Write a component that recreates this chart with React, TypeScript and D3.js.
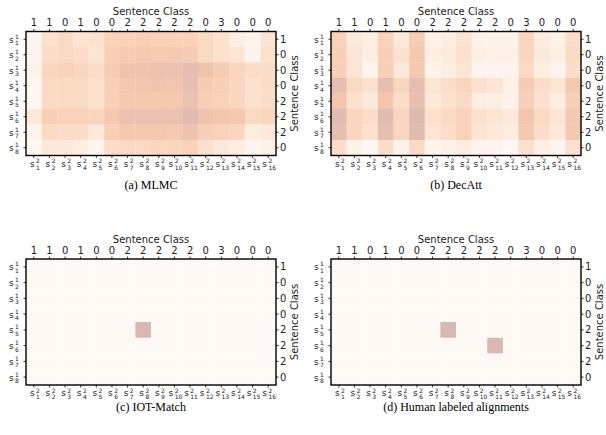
import React from "react";
import * as d3 from "d3";

const colClasses = ["1", "1", "0", "1", "0", "0", "2", "2", "2", "2", "2", "0", "3", "0", "0", "0"];
const rowClasses = ["1", "0", "0", "0", "2", "2", "2", "0"];

const mlmc: number[][] = [
  [0.05, 0.3, 0.4, 0.25, 0.3, 0.5, 0.5, 0.55, 0.5, 0.5, 0.5, 0.4, 0.3, 0.12, 0.06, 0.25],
  [0.05, 0.35, 0.4, 0.35, 0.25, 0.55, 0.6, 0.62, 0.6, 0.62, 0.6, 0.4, 0.3, 0.25, 0.05, 0.3],
  [0.08, 0.45, 0.5, 0.45, 0.35, 0.6, 0.72, 0.75, 0.8, 0.8, 0.88, 0.75, 0.6, 0.45, 0.35, 0.35],
  [0.03, 0.4, 0.4, 0.4, 0.3, 0.55, 0.65, 0.7, 0.72, 0.7, 0.85, 0.6, 0.55, 0.45, 0.3, 0.35],
  [0.03, 0.4, 0.4, 0.4, 0.3, 0.55, 0.65, 0.65, 0.65, 0.65, 0.8, 0.55, 0.5, 0.45, 0.3, 0.35],
  [0.2, 0.55, 0.5, 0.5, 0.45, 0.65, 0.8, 0.8, 0.8, 0.8, 0.9, 0.75, 0.7, 0.65, 0.4, 0.45],
  [0.05, 0.4, 0.35, 0.35, 0.2, 0.55, 0.65, 0.65, 0.65, 0.62, 0.78, 0.55, 0.5, 0.45, 0.15, 0.2],
  [0.03, 0.2, 0.2, 0.15, 0.05, 0.35, 0.4, 0.4, 0.45, 0.45, 0.5, 0.3, 0.2, 0.15, 0.05, 0.1],
];

const decatt: number[][] = [
  [0.5, 0.2, 0.12, 0.5, 0.2, 0.6, 0.1, 0.15, 0.25, 0.1, 0.08, 0.08, 0.45, 0.18, 0.1, 0.35],
  [0.55, 0.25, 0.15, 0.55, 0.3, 0.65, 0.12, 0.18, 0.3, 0.12, 0.1, 0.1, 0.45, 0.2, 0.12, 0.4],
  [0.55, 0.25, 0.05, 0.55, 0.2, 0.65, 0.08, 0.15, 0.25, 0.05, 0.05, 0.06, 0.4, 0.15, 0.05, 0.35],
  [0.85, 0.4, 0.3, 0.85, 0.45, 0.85, 0.25, 0.35, 0.45, 0.3, 0.25, 0.1, 0.6, 0.35, 0.25, 0.65],
  [0.7, 0.3, 0.2, 0.7, 0.35, 0.85, 0.2, 0.3, 0.4, 0.15, 0.12, 0.1, 0.55, 0.3, 0.15, 0.55],
  [0.9, 0.45, 0.35, 0.9, 0.45, 0.95, 0.3, 0.4, 0.5, 0.3, 0.25, 0.2, 0.7, 0.4, 0.25, 0.65],
  [0.85, 0.45, 0.3, 0.85, 0.45, 0.92, 0.25, 0.35, 0.5, 0.25, 0.2, 0.15, 0.65, 0.35, 0.2, 0.65],
  [0.35, 0.08, 0.03, 0.35, 0.08, 0.4, 0.05, 0.08, 0.15, 0.05, 0.05, 0.03, 0.3, 0.12, 0.05, 0.3],
];

// sparse alignments: [row, col] (0-based)
const iotCells: [number, number][] = [[4, 7]];
const humanCells: [number, number][] = [[4, 7], [5, 10]];

const rowLabels = d3.range(1, 9).map((i) => String(i));
const colLabels = d3.range(1, 17).map((j) => String(j));

function sparse(cells: [number, number][]): number[][] {
  const m = rowLabels.map(() => colLabels.map(() => 0));
  cells.forEach(([r, c]) => (m[r][c] = 1));
  return m;
}

const color = d3
  .scaleLinear<string>()
  .domain([0, 0.25, 0.5, 0.7, 0.85, 1])
  .range(["#fff9f5", "#fde5d3", "#fad2ba", "#f3c5ad", "#e7bfb1", "#d6bab0"])
  .clamp(true);

const SANS = "DejaVu Sans, sans-serif";

type PanelProps = { x0: number; x1: number; y0: number; y1: number; data: number[][]; caption: string; capY: number };

function Panel({ x0, x1, y0, y1, data, caption, capY }: PanelProps) {
  const x = d3.scaleBand<string>().domain(colLabels).range([x0, x1]);
  const y = d3.scaleBand<string>().domain(rowLabels).range([y0, y1]);
  const bw = x.bandwidth();
  const bh = y.bandwidth();
  const cx = (l: string) => (x(l) as number) + bw / 2;
  const cy = (l: string) => (y(l) as number) + bh / 2;
  return (
    <g>
      {data.map((row, r) =>
        row.map((v, c) => (
          <rect
            key={`${r}-${c}`}
            x={x(colLabels[c])}
            y={y(rowLabels[r])}
            width={bw + 0.3}
            height={bh + 0.3}
            fill={color(v)}
          />
        ))
      )}
      <rect x={x0} y={y0} width={x1 - x0} height={y1 - y0} fill="none" stroke="#000" strokeWidth={1.4} />
      {colLabels.map((l, i) => (
        <g key={"t" + l}>
          <line x1={cx(l)} x2={cx(l)} y1={y0} y2={y0 - 2.5} stroke="#000" strokeWidth={0.8} />
          <text x={cx(l)} y={y0 - 9} textAnchor="middle" dominantBaseline="central" fontSize={10} fontFamily={SANS} fill="#222">
            {colClasses[i]}
          </text>
          <line x1={cx(l)} x2={cx(l)} y1={y1} y2={y1 + 2.5} stroke="#000" strokeWidth={0.8} />
          <text x={cx(l) - (l.length > 1 ? 3.5 : 1.5)} y={y1 + 11} textAnchor="middle" fontSize={9} fontFamily={SANS} fill="#222">
            s
          </text>
          <text x={cx(l) + 2.2} y={y1 + 7.5} textAnchor="start" fontSize={6} fontFamily={SANS} fill="#222" dx={l.length > 1 ? -2 : 0}>
            2
          </text>
          <text x={cx(l) + 2.2} y={y1 + 14} textAnchor="start" fontSize={6} fontFamily={SANS} fill="#222" dx={l.length > 1 ? -2 : 0}>
            {l}
          </text>
        </g>
      ))}
      <text x={(x0 + x1) / 2} y={y0 - 20} textAnchor="middle" dominantBaseline="central" fontSize={10} fontFamily={SANS} fill="#222">
        Sentence Class
      </text>
      {rowLabels.map((l, i) => (
        <g key={"r" + l}>
          <line x1={x0} x2={x0 - 2.5} y1={cy(l)} y2={cy(l)} stroke="#000" strokeWidth={0.8} />
          <text x={x0 - 17} y={cy(l) + 3.5} fontSize={9} fontFamily={SANS} fill="#222">
            s
          </text>
          <text x={x0 - 11} y={cy(l) - 0.5} fontSize={6} fontFamily={SANS} fill="#222">
            1
          </text>
          <text x={x0 - 11} y={cy(l) + 6} fontSize={6} fontFamily={SANS} fill="#222">
            {l}
          </text>
          <line x1={x1} x2={x1 + 2.5} y1={cy(l)} y2={cy(l)} stroke="#000" strokeWidth={0.8} />
          <text x={x1 + 4} y={cy(l)} dominantBaseline="central" fontSize={10} fontFamily={SANS} fill="#222">
            {rowClasses[i]}
          </text>
        </g>
      ))}
      <text
        transform={`translate(${x1 + 18},${(y0 + y1) / 2}) rotate(-90)`}
        textAnchor="middle"
        dominantBaseline="central"
        fontSize={10}
        fontFamily={SANS}
        fill="#222"
      >
        Sentence Class
      </text>
      <text x={(x0 + x1) / 2} y={capY} textAnchor="middle" dominantBaseline="central" fontSize={12} fontFamily="Liberation Serif, serif" fill="#000">
        {caption}
      </text>
    </g>
  );
}

export default function App() {
  return (
    <svg width={606} height={435} style={{ display: "block", position: "absolute", left: 0, top: 0 }}>
      <rect width={606} height={435} fill="#fff" />
      <Panel x0={26} x1={276} y0={31.5} y1={155.5} data={mlmc} caption="(a)  MLMC" capY={185} />
      <Panel x0={331} x1={581} y0={31.5} y1={155.5} data={decatt} caption="(b)  DecAtt" capY={185} />
      <Panel x0={26} x1={276} y0={259} y1={385} data={sparse(iotCells)} caption="(c)  IOT-Match" capY={407} />
      <Panel x0={331} x1={581} y0={259} y1={385} data={sparse(humanCells)} caption="(d)  Human labeled alignments" capY={407} />
    </svg>
  );
}
